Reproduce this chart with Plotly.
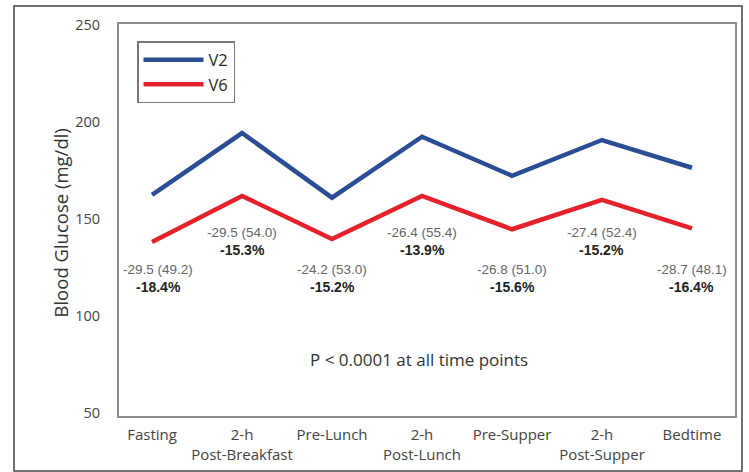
import plotly.graph_objects as go

# Self-monitored blood glucose profile at two visits
time_points = ["Fasting", "2-h<br>Post-Breakfast", "Pre-Lunch", "2-h<br>Post-Lunch",
               "Pre-Supper", "2-h<br>Post-Supper", "Bedtime"]
v2_glucose = [162.4, 194.3, 161.0, 192.4, 172.3, 190.7, 176.4]
v6_glucose = [138.1, 161.9, 139.7, 161.9, 144.7, 159.8, 145.2]

# Mean change (SD) and percent change from V2 to V6
change_mean = [-29.5, -29.5, -24.2, -26.4, -26.8, -27.4, -28.7]
change_sd = [49.2, 54.0, 53.0, 55.4, 51.0, 52.4, 48.1]
pct_change = [-18.4, -15.3, -15.2, -13.9, -15.6, -15.2, -16.4]

y_ticks = [50, 100, 150, 200, 250]

idx = list(range(len(time_points)))

fig = go.Figure()
fig.add_trace(go.Scatter(x=idx, y=v2_glucose, mode="lines", name="V2",
                         line=dict(color="#2a4d93", width=4.5)))
fig.add_trace(go.Scatter(x=idx, y=v6_glucose, mode="lines", name="V6",
                         line=dict(color="#e3222b", width=4.5)))

# Change labels: high points get labels just below the red line, low points further down
label_font = "Liberation Sans, Arial, sans-serif"
for i in idx:
    high = i % 2 == 1
    y1 = 142.8 if high else 124.2
    y2 = 134.0 if high else 115.0
    xs = 6 if i == 0 else 0
    fig.add_annotation(x=i, y=y1, xshift=xs, showarrow=False,
                       text=f"{change_mean[i]:.1f} ({change_sd[i]:.1f})",
                       font=dict(family=label_font, size=13.5, color="#666666"))
    fig.add_annotation(x=i, y=y2, xshift=xs, showarrow=False,
                       text=f"<b>{pct_change[i]:.1f}%</b>",
                       font=dict(family=label_font, size=14, color="#222222"))

axis_font = "Open Sans, sans-serif"

fig.add_annotation(xref="paper", yref="paper", x=(419 - 119) / 616, y=(416 - 373) / 392,
                   text="P < 0.0001 at all time points", showarrow=False,
                   font=dict(family=axis_font, size=17, color="#333333"))

fig.add_annotation(xref="paper", yref="paper", x=(45 - 119) / 616, y=(416 - 223) / 392,
                   text="Blood Glucose (mg/dl)", showarrow=False, textangle=-90,
                   font=dict(family=axis_font, size=18.5, color="#333333"))

# Outer frame around the whole figure
fig.add_shape(type="rect", xref="paper", yref="paper",
              x0=(14 - 119) / 616, x1=(742 - 119) / 616,
              y0=(416 - 471) / 392, y1=(416 - 6) / 392,
              line=dict(color="#444444", width=1.5))

fig.update_layout(
    width=749, height=472,
    margin=dict(l=119, r=14, t=24, b=56, autoexpand=False),
    paper_bgcolor="white", plot_bgcolor="white",
    showlegend=True,
    legend=dict(x=(137 - 119) / 616, y=(416 - 41) / 392, xanchor="left", yanchor="top",
                bgcolor="white", bordercolor="#777777", borderwidth=1.5,
                itemwidth=60, tracegroupgap=0,
                font=dict(family=axis_font, size=16.5, color="#2a2a2a")),
    xaxis=dict(range=[-0.367, 6.478], tickmode="array", tickvals=idx, ticktext=time_points,
               tickangle=0, automargin=False, ticklabelstandoff=4,
               showgrid=False, zeroline=False, ticks="", showline=True, mirror=True,
               linecolor="#8c8c8c", linewidth=2,
               tickfont=dict(family=axis_font, size=15, color="#444444")),
    yaxis=dict(range=[48.45, 250.5], tickmode="array", tickvals=y_ticks,
               automargin=False,
               showgrid=False, zeroline=False, ticks="", showline=True, mirror=True,
               linecolor="#8c8c8c", linewidth=2, ticklabelstandoff=14,
               tickfont=dict(family=axis_font, size=14.5, color="#444444")),
)

fig.write_html("out.html")
